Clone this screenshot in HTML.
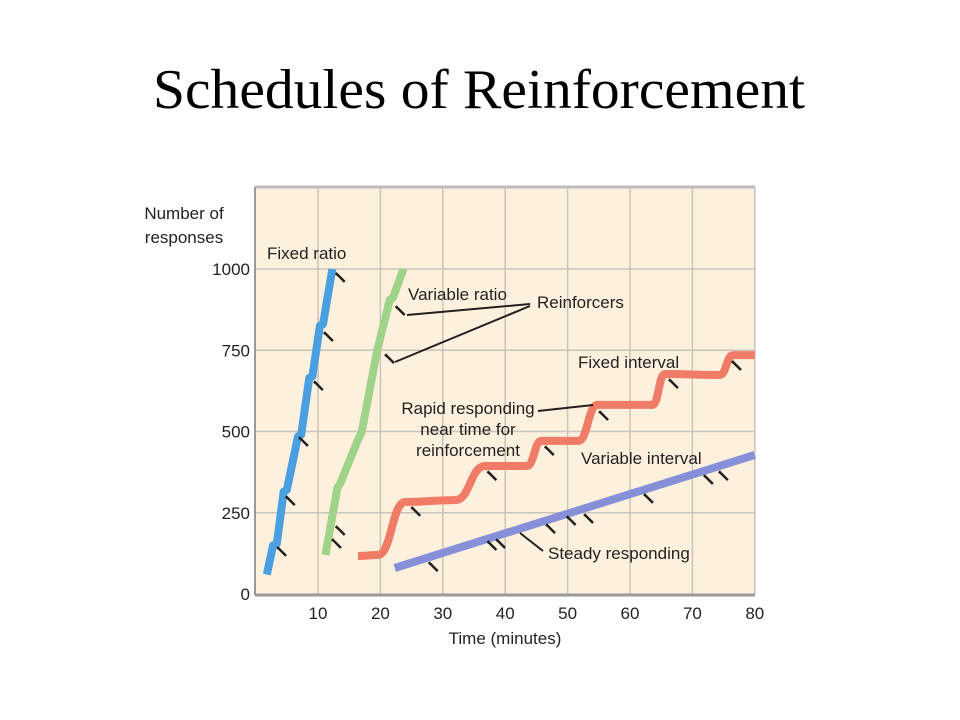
<!DOCTYPE html>
<html><head><meta charset="utf-8"><style>
body{margin:0;background:#fff;width:960px;height:720px;overflow:hidden}
svg{display:block}
.s{font-family:"Liberation Sans",sans-serif;font-size:17px;fill:#231f20}
</style></head><body>
<svg width="960" height="720">
<text x="153" y="108" textLength="652" lengthAdjust="spacingAndGlyphs" style="font-family:'Liberation Serif',serif;font-size:56px;fill:#000">Schedules of Reinforcement</text>
<rect x="255" y="187" width="500" height="407" fill="#fdf1de"/>
<line x1="255" y1="187" x2="755" y2="187" stroke="#bbb" stroke-width="3"/>
<g id="grid"></g>
<line x1="255" y1="187" x2="255" y2="595" stroke="#999" stroke-width="2"/>
<line x1="255" y1="595" x2="755" y2="595" stroke="#999" stroke-width="3"/>
<g id="ticks" class="s"></g>
<text class="s" x="184" y="219" text-anchor="middle"><tspan x="184">Number of</tspan><tspan x="184" dy="24">responses</tspan></text>
<text class="s" x="505" y="644" text-anchor="middle">Time (minutes)</text>
<g id="series"></g>
<g id="marks"></g>
<g stroke="#231f20" stroke-width="2" fill="none">
<line x1="407" y1="315" x2="530" y2="304"/><line x1="395" y1="362" x2="530" y2="306"/>
<line x1="538" y1="411" x2="593" y2="405"/>
<line x1="520" y1="533" x2="543" y2="551"/>
</g>
<text class="s" x="267" y="259">Fixed ratio</text>
<text class="s" x="408" y="300">Variable ratio</text>
<text class="s" x="537" y="308">Reinforcers</text>
<text class="s" x="578" y="368">Fixed interval</text>
<text class="s" x="468" y="414" text-anchor="middle"><tspan x="468">Rapid responding</tspan><tspan x="468" dy="21">near time for</tspan><tspan x="468" dy="21">reinforcement</tspan></text>
<text class="s" x="581" y="464">Variable interval</text>
<text class="s" x="548" y="559">Steady responding</text>
</svg>
<script>
const xTicks=[10,20,30,40,50,60,70,80];
const yTicks=[0,250,500,750,1000];
const fixedRatio=[[1.8,60],[2.8,150],[3.4,155],[4.5,315],[5,320],[6.8,485],[7.3,490],[8.6,665],[9.1,670],[10.3,825],[10.8,830],[12.3,1000]];
const fixedRatioReinf=[[3.6,142],[5.0,298],[7.1,480],[9.5,652],[11.1,803],[13.0,985]];
const variableRatio=[[11.2,120],[13.1,326],[13.6,342],[16.4,474],[17,498],[19.5,751],[21.5,905],[22,911],[23.7,1000]];
const variableRatioReinf=[[12.4,166],[13,206],[20.9,735],[22.6,883]];
const fixedInterval=[[16.4,117],[19.6,120],[24,283],[32,289],[36.8,394],[43.5,394],[45.8,471],[51.7,471],[54.8,582],[63.6,582],[65.6,677],[74.4,674],[76.5,735],[80,735]];
const fixedIntervalReinf=[[25.1,265],[37.3,375],[46.5,452],[55.2,560],[66.4,658],[76.5,714]];
const variableInterval=[[22.3,80],[80,428]];
const variableIntervalReinf=[[27.9,95],[37.3,160],[38.7,166],[46.7,212],[50,237],[52.8,243],[62.4,305],[72,363],[74.4,375]];
const X=t=>255.6+t*6.24, Y=r=>594-r*0.325;
const NS="http://www.w3.org/2000/svg";
function mk(tag,attrs,parent){const e=document.createElementNS(NS,tag);for(const k in attrs)e.setAttribute(k,attrs[k]);parent.appendChild(e);return e;}
const grid=document.getElementById('grid'),ticks=document.getElementById('ticks');
xTicks.forEach(v=>{const g=mk('line',{x1:X(v),x2:X(v),y1:187,y2:594,stroke:'#c8c3bb','stroke-width':1.5},grid);


const t=mk('text',{x:X(v),y:619,'text-anchor':'middle'},ticks);t.textContent=v;

});
yTicks.forEach(v=>{if(v>0){const g=mk('line',{x1:255,x2:755,y1:Y(v),y2:Y(v),stroke:'#c8c3bb','stroke-width':1.5},grid);

}
const t=mk('text',{x:250,y:Y(v)+6,'text-anchor':'end'},ticks);t.textContent=v;

});
const series=document.getElementById('series'),marks=document.getElementById('marks');
function poly(pts,color,name){const p=mk('polyline',{points:pts.map(d=>X(d[0])+','+Y(d[1])).join(' '),fill:'none',stroke:color,'stroke-width':8,'stroke-linejoin':'round'},series);

}
function smooth(pts,color,name){let d='M'+X(pts[0][0])+','+Y(pts[0][1]);
for(let i=1;i<pts.length;i++){const x0=X(pts[i-1][0]),y0=Y(pts[i-1][1]),x1=X(pts[i][0]),y1=Y(pts[i][1]);const h=(x1-x0)/2;d+=' C'+(x0+h)+','+y0+' '+(x1-h)+','+y1+' '+x1+','+y1;}
const p=mk('path',{d:d,fill:'none',stroke:color,'stroke-width':8,'stroke-linecap':'butt'},series);

}
function reinf(pts,name){pts.forEach((d,i)=>{const x=X(d[0]),y=Y(d[1]);const l=mk('polyline',{points:(x-1)+','+(y+1)+' '+x+','+y+' '+(x+8)+','+(y+8),fill:'none',stroke:'#231f20','stroke-width':2.5},marks);

});}
poly(fixedRatio,'#4a9fe0','fixed-ratio-line');
poly(variableRatio,'#9fd389','variable-ratio-line');
smooth(fixedInterval,'#f07c68','fixed-interval-line');
poly(variableInterval,'#8690d8','variable-interval-line');
reinf(fixedRatioReinf,'fixed-ratio-reinforcer');
reinf(variableRatioReinf,'variable-ratio-reinforcer');
reinf(fixedIntervalReinf,'fixed-interval-reinforcer');
reinf(variableIntervalReinf,'variable-interval-reinforcer');
</script>
</body></html>
